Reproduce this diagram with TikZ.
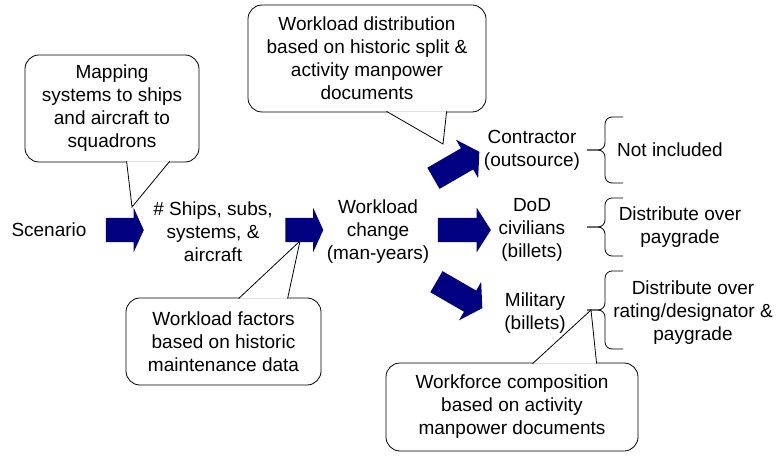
\documentclass[tikz,border=0pt]{standalone}
\usepackage{fontspec}
\setmainfont{Liberation Sans}
\usetikzlibrary{shapes.arrows,positioning,calc}
\definecolor{navy}{RGB}{0,0,128}

\begin{document}
\begin{tikzpicture}[x=1pt,y=-1pt,font=\fontsize{19}{23}\selectfont,
      txt/.style={align=center,inner sep=0pt},
      bubble/.style={draw,line width=0.8pt,rounded corners=14pt,align=center,inner sep=0pt},
      wedge/.style={draw,fill=white,line width=0.8pt},
      flow/.style={single arrow,fill=navy,inner xsep=0pt,inner ysep=12pt,
        single arrow head extend=10pt,single arrow head indent=0pt},
      curly/.style={draw,line width=0.8pt,rounded corners=7pt}]
    \useasboundingbox (0,0) rectangle (779,457);
    % main flow
    \node[txt] (scen) at (49,230) {Scenario};
    \node[txt] (ships) at (213,232) {\# Ships, subs,\\systems, \&\\aircraft};
    \node[txt] (work) at (378,232) {Workload\\change\\(man-years)};
    \node[txt] (contr) at (532,150) {Contractor\\(outsource)};
    \node[txt] (dod) at (532,230) {DoD\\civilians\\(billets)};
    \node[txt] (mil) at (535,313) {Military\\(billets)};
    \node[flow,single arrow tip angle=131,minimum height=38pt] (a1) at (122,230) {};
    \node[flow,single arrow tip angle=131,minimum height=38pt] (a2) at (301.5,230) {};
    \node[flow,single arrow tip angle=115,minimum height=53pt,rotate=30] (a3) at (453,167) {};
    \node[flow,single arrow tip angle=115,minimum height=53pt] (a4) at (460.5,230) {};
    \node[flow,single arrow tip angle=115,minimum height=53pt,rotate=-30] (a5) at (456,293) {};
    % outcomes
    \node[txt] (none) at (670,150) {Not included};
    \node[txt] (pay) at (680,227) {Distribute over\\paygrade};
    \node[txt] (rate) at (693,313) {Distribute over\\rating/designator \&\\paygrade};
    \draw[curly] (623,117) -- (605,117) -- (605,150) -- (587,150);
    \draw[curly] (587,150) -- (605,150) -- (605,183) -- (623,183);
    \draw[curly] (623,198) -- (605,198) -- (605,227) -- (587,227);
    \draw[curly] (587,227) -- (605,227) -- (605,256) -- (623,256);
    \draw[curly] (623,271) -- (605,271) -- (605,310) -- (587,310);
    \draw[curly] (587,310) -- (605,310) -- (605,349) -- (623,349);
    % callouts
    \node[bubble,minimum width=174pt,minimum height=107pt] (c1) at (112,108.5) {Mapping\\systems to ships\\and aircraft to\\squadrons};
    \node[bubble,minimum width=238pt,minimum height=107pt] (c2) at (367,58.5) {Workload distribution\\based on historic split \&\\activity manpower\\documents};
    \node[bubble,minimum width=195pt,minimum height=87pt] (c3) at (223.5,341.5) {Workload factors\\based on historic\\maintenance data};
    \node[bubble,minimum width=252pt,minimum height=88pt] (c4) at (512,407) {Workforce composition\\based on activity\\manpower documents};
    \coordinate (p1) at (132,207);
    \coordinate (p2) at (443,144);
    \coordinate (p3) at (300,241);
    \coordinate (p4) at (591,310);
    \draw[wedge] ([xshift=102pt,yshift=1pt]c1.south west) -- (p1) -- ([xshift=145pt,yshift=1pt]c1.south west);
    \draw[wedge] ([xshift=139pt,yshift=1pt]c2.south west) -- (p2) -- ([xshift=199pt,yshift=1pt]c2.south west);
    \draw[wedge] ([xshift=113pt,yshift=-1pt]c3.north west) -- (p3) -- ([xshift=162pt,yshift=-1pt]c3.north west);
    \draw[wedge] ([xshift=147pt,yshift=-1pt]c4.north west) -- (p4) -- ([xshift=211pt,yshift=-1pt]c4.north west);
  \end{tikzpicture}
\end{document}
